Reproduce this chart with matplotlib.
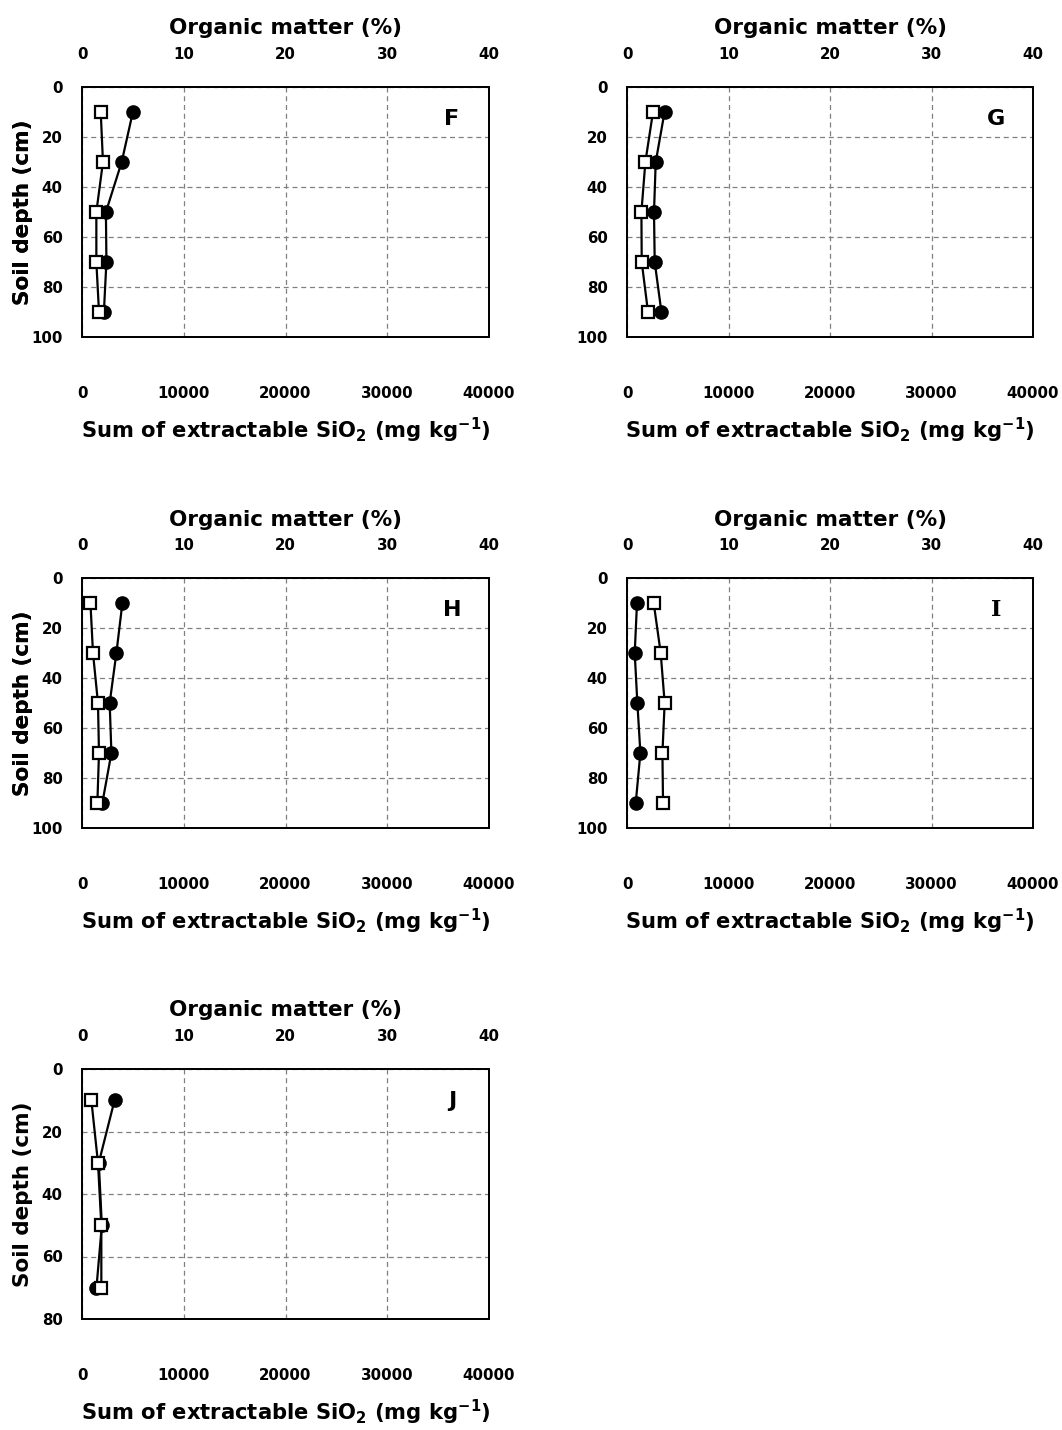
import matplotlib
matplotlib.use("Agg")
import matplotlib.pyplot as plt

plt.rcParams['font.family'] = ['DejaVu Sans']
plt.rcParams['font.weight'] = 'bold'
plt.rcParams['mathtext.default'] = 'bf'

depths_100 = [10, 30, 50, 70, 90]
depths_80 = [10, 30, 50, 70]

panels = ["F", "G", "H", "I", "J"]

sio2_F = [5000, 3900, 2350, 2400, 2150]
om_F = [1.84, 2.06, 1.41, 1.41, 1.67]

sio2_G = [3700, 2830, 2660, 2730, 3390]
om_G = [2.56, 1.81, 1.42, 1.45, 2.07]

sio2_H = [3970, 3380, 2720, 2890, 2000]
om_H = [0.83, 1.08, 1.57, 1.67, 1.51]

sio2_I = [985, 760, 1020, 1320, 860]
om_I = [2.63, 3.32, 3.71, 3.49, 3.55]

sio2_J = [3200, 1650, 1950, 1420]
om_J = [0.92, 1.57, 1.90, 1.90]

sio2_ticks = [0, 10000, 20000, 30000, 40000]
om_ticks = [0, 10, 20, 30, 40]

data = {
    "F": (depths_100, sio2_F, om_F, 100),
    "G": (depths_100, sio2_G, om_G, 100),
    "H": (depths_100, sio2_H, om_H, 100),
    "I": (depths_100, sio2_I, om_I, 100),
    "J": (depths_80, sio2_J, om_J, 80),
}

W, H = 1062, 1430
fig = plt.figure(figsize=(W / 100, H / 100), dpi=100)

# pixel boxes: left, right, top, bottom
boxes = {
    "F": (82, 489, 87, 337),
    "G": (627, 1033, 87, 337),
    "H": (82, 489, 578, 828),
    "I": (627, 1033, 578, 828),
    "J": (82, 489, 1069, 1319),
}

for name in panels:
    d, sio2, om, ymax = data[name]
    l, r, t, b = boxes[name]
    ax = fig.add_axes([l / W, 1 - b / H, (r - l) / W, (b - t) / H])
    ax.set_xlim(0, 40000)
    ax.set_ylim(ymax, 0)
    ax.set_xticks(sio2_ticks)
    ax.set_yticks(list(range(0, ymax + 1, 20)))
    ax.grid(True, color='#808080', linestyle=(0, (4, 3)), linewidth=0.9)
    ax.set_axisbelow(True)
    ax.tick_params(axis='x', length=0, pad=35, labelsize=10.8)
    ax.tick_params(axis='y', length=0, pad=14, labelsize=10.8)
    for sp in ax.spines.values():
        sp.set_linewidth(1.3)
    ax.plot(sio2, d, color='black', linewidth=1.6, marker='o', markersize=9.5,
            markerfacecolor='black', markeredgecolor='black', zorder=3)
    ax.set_xlabel(r"Sum of extractable SiO$_2$ (mg kg$^{-1}$)", fontsize=15.2,
                  fontweight='bold', labelpad=11)
    ax.set_ylabel("Soil depth (cm)", fontsize=15.5, fontweight='bold')
    ax.yaxis.set_label_coords((33 - l) / (r - l), 0.5)
    for lab in ax.get_xticklabels() + ax.get_yticklabels():
        lab.set_fontweight('bold')

    ax2 = ax.twiny()
    ax2.set_xlim(0, 40)
    ax2.set_xticks(om_ticks)
    ax2.tick_params(axis='x', length=0, pad=18, labelsize=10.8)
    for lab in ax2.get_xticklabels():
        lab.set_fontweight('bold')
    for sp in ax2.spines.values():
        sp.set_linewidth(1.3)
    ax2.plot(om, d, color='black', linewidth=1.6, marker='s', markersize=9,
             markerfacecolor='white', markeredgecolor='black',
             markeredgewidth=1.6, zorder=4)
    ax2.set_xlabel("Organic matter (%)", fontsize=15.5, fontweight='bold', labelpad=9)

    fam = ['DejaVu Serif'] if name == "I" else ['DejaVu Sans']
    ax2.text(0.909, 0.872, name, transform=ax2.transAxes, fontsize=16,
             fontweight='bold', ha='center', va='center', family=fam)

fig.savefig("out.png", dpi=100)
